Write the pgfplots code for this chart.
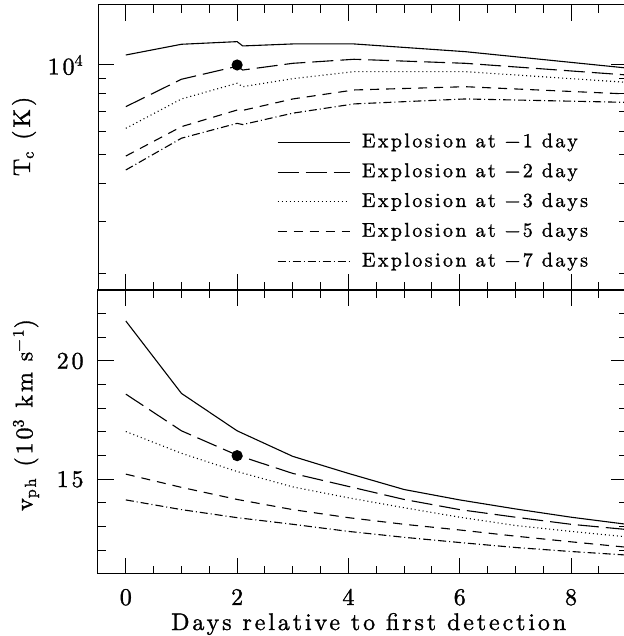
\documentclass[border=0pt]{standalone}
\usepackage{fontspec}
\setmainfont{lmroman10-regular.otf}[LetterSpace=12, FakeBold=1.2]
\usepackage{pgfplots}
\usepackage{pgfplotstable}
\pgfplotsset{compat=1.18}

% T_c (K): columns = explosion at -1, -2, -3, -5, -7 days
\pgfplotstableread{
x    a     b     c     d     e
0    10800 7255  6140  4960  4455
1    11730 8960  7700  6220  5690
2    11970 9900  8690  7070  6380
2.1  11580 9620  8460  7050  6320
3    11760 10130 9000  7700  6900
4.1  11760 10450 9500  8250  7410
6.1  11080 10130 9500  8460  7700
9    9770  9260  8750  8000  7500
}\tctab

% v_ph (10^3 km/s)
\pgfplotstableread{
x a     b     c     d     e
0 21.69 18.60 17.02 15.22 14.13
1 18.63 17.05 16.10 14.66 13.72
2 17.05 16.02 15.33 14.15 13.38
3 15.97 15.25 14.68 13.72 13.10
4 15.25 14.70 14.22 13.38 12.80
5 14.57 14.15 13.80 13.10 12.55
6 14.13 13.72 13.40 12.86 12.33
7 13.75 13.40 13.05 12.60 12.12
8 13.40 13.10 12.80 12.36 11.95
9 13.10 12.88 12.57 12.13 11.80
}\vphtab

\pgfplotsset{
  panel/.style={
    scale only axis, width=264.35pt,
    xmin=-0.5, xmax=9,
    xtick={0,2,4,6,8}, minor xtick={0.5,1,...,8.5},
    tick align=inside, xtick pos=both, ytick pos=both,
    major tick length=8pt, minor tick length=4pt,
    every tick/.append style={black, line width=0.5pt},
    axis line style={line width=0.5pt},
    tick label style={font=\large},
    label style={font=\large},
    /pgf/number format/assume math mode=true,
    yticklabel style={anchor=east, inner sep=0pt, xshift=-7pt},
    every axis plot/.append style={black, line width=0.55pt},
  },
  s1/.style={solid},
  s2/.style={dash pattern=on 10.5pt off 3.5pt},
  s3/.style={dash pattern=on 0.5pt off 1.5pt},
  s5/.style={dash pattern=on 4.5pt off 3.5pt},
  s7/.style={dash pattern=on 4pt off 1.5pt on 0.5pt off 1.5pt},
}

\begin{document}
\begin{tikzpicture}
\begin{axis}[panel, name=bot, at={(0,0)}, height=142pt,
    ymin=11, ymax=23, ytick={15,20}, minor ytick={12,13,14,16,17,18,19,21,22},
    xticklabel style={anchor=base, yshift=-15.5pt},
    xlabel={Days relative to first detection},
    xlabel style={at={(rel axis cs:0.512,0)}, anchor=base, yshift=-28pt},
    ylabel={v\textsubscript{ph} (10\textsuperscript{3} km s\textsuperscript{−1})},
    ylabel style={at={([xshift=-36pt]rel axis cs:0,0.56)}, anchor=center},
]
\addplot[s1] table[x=x, y=a] {\vphtab};
\addplot[s2] table[x=x, y=b] {\vphtab};
\addplot[s3] table[x=x, y=c] {\vphtab};
\addplot[s5] table[x=x, y=d] {\vphtab};
\addplot[s7] table[x=x, y=e] {\vphtab};
\addplot[only marks, mark=*, mark size=2.5pt] coordinates {(2,16)};
\end{axis}

\begin{axis}[panel, name=top, at={(0,142pt)}, height=142.5pt,
    ymode=log, ymin=1768, ymax=15876,
    ytick={10000}, yticklabels={10\textsuperscript{4}},
    minor ytick={2000,3000,4000,5000,6000,7000,8000,9000},
    xticklabels={},
    ylabel={T\textsubscript{c} (K)},
    ylabel style={at={([xshift=-37pt]rel axis cs:0,0.539)}, anchor=center},
    legend cell align=left,
    legend image code/.code={\draw[#1] (0pt,0pt) -- (36pt,0pt);},
    legend style={at={(rel axis cs:0.338,0.551)}, anchor=north west,
      draw=none, fill=none, inner sep=0pt, font=\normalsize,
      row sep=5.9pt, column sep=5.85pt,
      nodes={inner sep=0pt, text height=7pt, text depth=2pt}},
]
\addplot[s1] table[x=x, y=a] {\tctab};
\addplot[s2] table[x=x, y=b] {\tctab};
\addplot[s3] table[x=x, y=c] {\tctab};
\addplot[s5] table[x=x, y=d] {\tctab};
\addplot[s7] table[x=x, y=e] {\tctab};
\addplot[only marks, mark=*, mark size=2.5pt] coordinates {(2,10000)};
\legend{Explosion at −1 day, Explosion at −2 day, Explosion at −3 days,
        Explosion at −5 days, Explosion at −7 days}
\end{axis}

\draw[line width=1.3pt] (top.south west) -- (top.south east);
\pgfresetboundingbox
\useasboundingbox (-49pt,-31pt) rectangle (263pt,287pt);
\end{tikzpicture}
\end{document}
